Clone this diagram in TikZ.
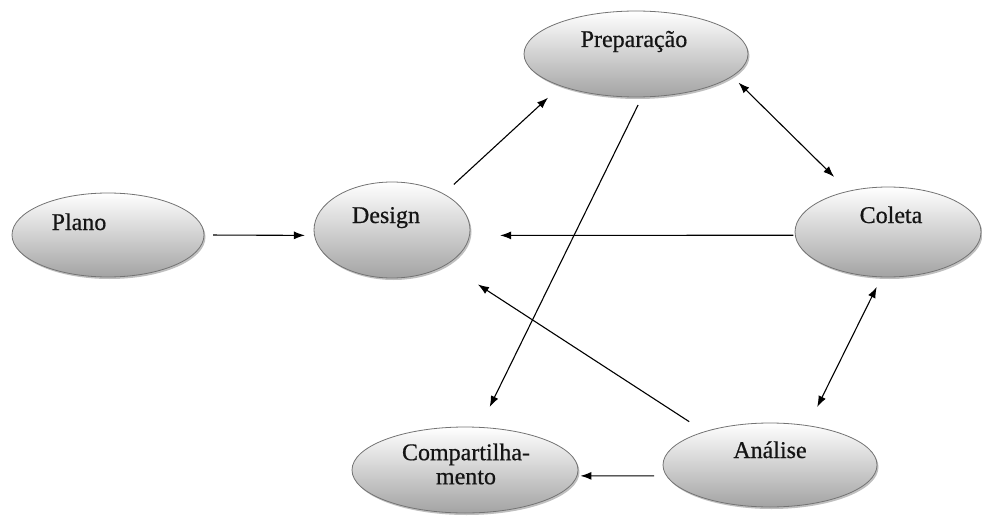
\documentclass[tikz,border=0pt]{standalone}
\usepackage{fontspec}
\setmainfont{Liberation Serif}
\newfontfamily\stagefont[FakeBold=0.6]{Liberation Serif}
\usetikzlibrary{shapes.geometric,arrows.meta,shadows}
\begin{document}
\begin{tikzpicture}[x=1pt,y=-1pt,
  stage/.style={ellipse, draw=black!55, line width=0.8pt,
    top color=white, middle color=black!5, bottom color=black!36,
    inner sep=0pt, outer sep=0pt,
    drop shadow={shadow xshift=1.5pt, shadow yshift=-2pt, opacity=0.25, fill=black}},
  tag/.style={font=\stagefont\fontsize{24}{24}\selectfont, text=black!92, anchor=base, inner sep=0pt},
  link/.style={line width=1.1pt, -{Latex[length=11pt,width=8pt]}},
  twoway/.style={line width=1.1pt, {Latex[length=11pt,width=8pt]}-{Latex[length=11pt,width=8pt]}}]
\useasboundingbox (0,0) rectangle (982,516);

% stages of the cycle
\node[stage, minimum width=192pt, minimum height=84pt] (plano)   at (108,235) {};
\node[stage, minimum width=156pt, minimum height=96pt] (design)  at (392,230) {};
\node[stage, minimum width=224pt, minimum height=86pt] (prep)    at (636,54)  {};
\node[stage, minimum width=186pt, minimum height=90pt] (coleta)  at (888,232) {};
\node[stage, minimum width=214pt, minimum height=84pt] (analise) at (770,465) {};
\node[stage, minimum width=226pt, minimum height=86pt] (comp)    at (465,470) {};

% stage names
\node[tag] (planotext)   at (79,230)  {Plano};
\node[tag] (designtext)  at (386,223) {Design};
\node[tag] (preptext)    at (634,47)  {Preparação};
\node[tag] (coletatext)  at (891,223) {Coleta};
\node[tag] (analisetext) at (770,458) {Análise};
\node[tag, anchor=center, align=center] (comptext) at (466,464) {Compartilha-\\mento};

% connectors
\draw[link, shorten <=9pt, shorten >=9.6pt] (plano.-0.6) -- (design.184.4);
\draw[link, shorten <=14.1pt, shorten >=17.5pt] (design.35.9) -- (prep.203.6);
\draw[twoway, shorten <=9.2pt, shorten >=20.4pt] (prep.-13.3) -- (coleta.134.1);
\draw[link, shorten <=2pt, shorten >=30.6pt] (coleta.182.5) -- (design.-4.4);
\draw[link, shorten <=18.5pt, shorten >=37.2pt] (analise.153.7) -- (design.-32.8);
\draw[link, shorten <=9pt, shorten >=22.7pt] (prep.-82.1) -- (comp.71.9);
\draw[twoway, shorten <=11.2pt, shorten >=20.9pt] (coleta.262.4) -- (analise.46.2);
\draw[link, shorten <=12.5pt, shorten >=3.5pt] (analise.186.7) -- (comp.-3.6);
\end{tikzpicture}
\end{document}
